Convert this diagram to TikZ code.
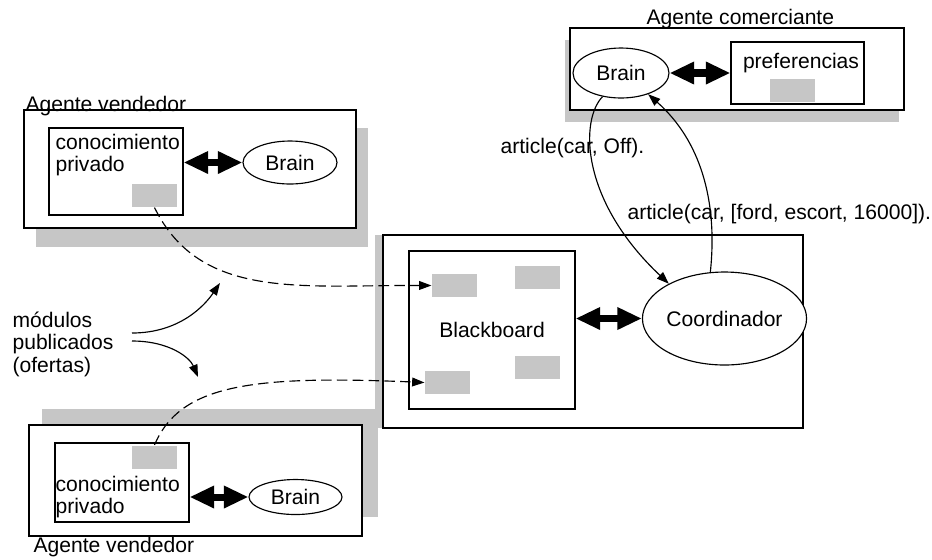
\documentclass[tikz,border=0pt]{standalone}
\usepackage{fontspec}
\setmainfont{Liberation Sans}
\usetikzlibrary{arrows.meta,shapes.geometric}
\definecolor{slotgray}{RGB}{198,198,198}

\begin{document}
\begin{tikzpicture}[x=0.02cm,y=-0.02cm,line width=0.65pt,
	font=\fontsize{12}{12.5}\selectfont,
	box/.style={draw,fill=white,rectangle,inner sep=0},
	brain/.style={draw,fill=white,ellipse,inner sep=0},
	slot/.style={fill=slotgray,minimum width=0.9cm,minimum height=0.46cm,inner sep=0},
	label/.style={inner sep=0,anchor=base west},
	lines/.style={inner sep=0,anchor=north west,align=left},
	dbl/.style={line width=4pt,arrows={Triangle[length=14pt,width=12pt]-Triangle[length=14pt,width=12pt]}},
	flow/.style={-{Triangle[length=7pt,width=5pt]}},
	pub/.style={flow,dash pattern=on 6pt off 3pt}]
\useasboundingbox (0,0) rectangle (932,559);

\fill[slotgray] (565,40) rectangle (899,122);
\node[box,minimum width=6.68cm,minimum height=1.64cm] (comerciante) at (737,69) {};
\node[label] (comTitle) at (646,24) {Agente comerciante};
\node[box,minimum width=2.66cm,minimum height=1.24cm] (pref) at (797.5,73) {};
\node (prefTxt) at (801,63) {preferencias};
\node[slot] (slotP) at (792.5,90) {};
\node[brain,minimum width=1.92cm,minimum height=1cm] (brainC) at (621,73) {Brain};

\fill[slotgray] (36,128) rectangle (368,247);
\node[box,minimum width=6.64cm,minimum height=2.36cm] (vendA) at (190,169) {};
\node[label] (vendATitle) at (25,111) {Agente vendedor};
\node[box,minimum width=2.68cm,minimum height=1.74cm] (conocA) at (116,171.5) {};
\node[lines] (conocATxt) at (55,134) {conocimiento\\privado};
\node[slot] (slotA) at (154.5,195.5) {};
\node[brain,minimum width=1.88cm,minimum height=0.86cm] (brainA) at (290,162.5) {Brain};

\fill[slotgray] (42,409) rectangle (378,517);
\node[box,minimum width=6.66cm,minimum height=2.22cm] (vendB) at (195.5,480.5) {};
\node[label] (vendBTitle) at (33,552) {Agente vendedor};
\node[box,minimum width=2.68cm,minimum height=1.58cm] (conocB) at (122,482.5) {};
\node[lines] (conocBTxt) at (55,476) {conocimiento\\privado};
\node[slot] (slotB) at (154.5,457) {};
\node[brain,minimum width=1.86cm,minimum height=0.7cm] (brainB) at (295.5,497) {Brain};

\fill[slotgray] (375,235) rectangle (800,428);
\node[box,minimum width=8.4cm,minimum height=3.86cm] (board) at (593,331.5) {};
\node[box,minimum width=3.32cm,minimum height=3.16cm] (bb) at (492,330) {Blackboard};
\foreach \n/\x/\y in {1/454.5/285.5,2/537.5/277.5,3/537.5/367.5,4/447.5/382.5}
	\node[slot] (bb\n) at (\x,\y) {};
\node[brain,minimum width=2.54cm,minimum height=1.86cm] (coord) at (724.5,318.5) {Coordinador};

\node[lines,font=\fontsize{12}{13}\selectfont] (modTxt) at (12,311) {módulos\\publicados\\(ofertas)};
\node[label] (offTxt) at (500,153) {article(car, Off).};
\node[label] (fordTxt) at (627,219) {article(car, [ford, escort, 16000]).};

\draw[dbl] (brainC.east) -- (brainC.east -| pref.west);
\draw[dbl] (brainA.west -| conocA.east) -- (brainA.west);
\draw[dbl] (brainB.west -| conocB.east) -- (brainB.west);
\draw[dbl] (coord.west -| bb.east) -- (coord.west);

\draw[flow] (brainC.232) .. controls (580,120) and (580,200) .. (coord.148);
\draw[flow] (coord.107) .. controls (718,200) and (700,140) .. (brainC.322);

\coordinate (pubA) at (132,333);
\coordinate (pubAEnd) at (220,283);
\coordinate (pubB) at (132,341);
\coordinate (pubBEnd) at (198,377);
\draw[flow] (pubA) .. controls (180,333) and (205,305) .. (pubAEnd);
\draw[flow] (pubB) .. controls (170,341) and (190,358) .. (pubBEnd);

\draw[pub] (slotA.south) .. controls (200,300) and (300,285) .. (bb1.west);
\draw[pub] (slotB.north) .. controls (180,385) and (250,375) .. (bb4.west);
\end{tikzpicture}
\end{document}
